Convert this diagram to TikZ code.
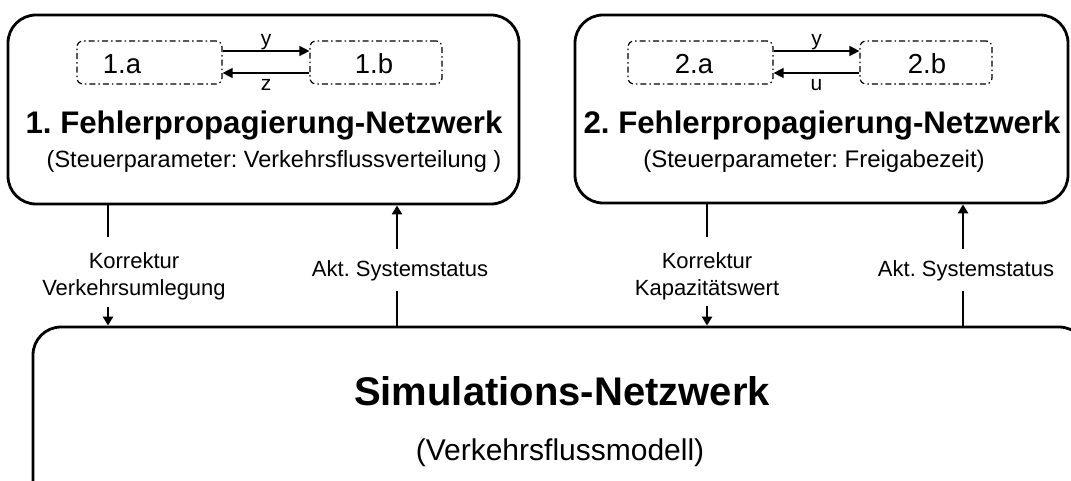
\documentclass[tikz,border=0pt]{standalone}
\usepackage{fontspec}
\setmainfont{Liberation Sans}
\usetikzlibrary{arrows.meta}
\frenchspacing
\tikzset{
  bigbox/.style={draw, line width=2.8pt, rounded corners=28pt, inner sep=0pt},
  subbox/.style={draw, line width=1.2pt, rounded corners=6pt, inner sep=0pt,
    dash pattern=on 6pt off 3pt on 1.5pt off 3pt},
  conn/.style={line width=2.8pt},
  carrow/.style={line width=2.8pt, -{Triangle[length=9pt,width=10pt]}},
  sarrow/.style={line width=1.4pt, -{Triangle[length=10pt,width=10pt]}},
  titlef/.style={font=\fontsize{31.2}{34}\selectfont\bfseries, inner sep=0pt, anchor=base},
  subf/.style={font=\fontsize{23.5}{26}\selectfont, inner sep=0pt, anchor=base},
  boxlab/.style={font=\fontsize{27.5}{29}\selectfont, inner sep=0pt},
  smalllab/.style={font=\fontsize{21}{22}\selectfont, inner sep=0pt},
  clab/.style={font=\fontsize{22}{27}\selectfont, inner sep=0pt, align=center},
}
\begin{document}
\begin{tikzpicture}[x=1pt,y=-1pt]
\useasboundingbox (0,0) rectangle (1071,481);
\clip (0,0) rectangle (1071,481);

% top boxes
\node[bigbox, minimum width=511pt, minimum height=189pt] (n1) at (263.5,109.5) {};
\node[bigbox, minimum width=493pt, minimum height=188pt] (n2) at (821.5,109) {};
% bottom box
\node[bigbox, minimum width=1054pt, minimum height=190pt] (sim) at (560,422) {};

% sub boxes
\node[subbox, minimum width=145pt, minimum height=43pt] (n1a) at (149.5,62.5) {};
\node[subbox, minimum width=132pt, minimum height=43pt] (n1b) at (376,62.5) {};
\node[subbox, minimum width=145pt, minimum height=43pt] (n2a) at (700.5,62.5) {};
\node[subbox, minimum width=132pt, minimum height=43pt] (n2b) at (926,62.5) {};
\node[boxlab] (l1a) at (122,64) {1.a};
\node[boxlab] (l1b) at (374,64) {1.b};
\node[boxlab] (l2a) at (694,64) {2.a};
\node[boxlab] (l2b) at (927,64) {2.b};

\draw[sarrow] ([yshift=11.5pt]n1a.east) -- ([yshift=11.5pt]n1b.west)
  node[smalllab, midway, anchor=south, yshift=0.5pt] (ly1) {y};
\draw[sarrow] ([yshift=-10.5pt]n1b.west) -- ([yshift=-10.5pt]n1a.east)
  node[smalllab, midway, anchor=north, yshift=-6pt] (lz1) {z};
\draw[sarrow] ([yshift=11.5pt]n2a.east) -- ([yshift=11.5pt]n2b.west)
  node[smalllab, midway, anchor=south, yshift=0.5pt] (ly2) {y};
\draw[sarrow] ([yshift=-10.5pt]n2b.west) -- ([yshift=-10.5pt]n2a.east)
  node[smalllab, midway, anchor=north, yshift=-6pt] (lu2) {u};

% titles
\node[titlef] (t1) at (264,134) {1. Fehlerpropagierung-Netzwerk};
\node[subf] (s1) at (274,168) {(Steuerparameter: Verkehrsflussverteilung )};
\node[titlef] (t2) at (822,134) {2. Fehlerpropagierung-Netzwerk};
\node[subf, font=\fontsize{24}{26}\selectfont] (s2) at (814,168) {(Steuerparameter: Freigabezeit)};
\node[font=\fontsize{40}{44}\selectfont\bfseries, inner sep=0pt, anchor=base] (st) at (562,405) {Simulations-Netzwerk};
\node[font=\fontsize{30}{32}\selectfont, inner sep=0pt, anchor=base] (ss) at (560,460) {(Verkehrsflussmodell)};

% connector labels
\node[clab] (k1) at (134,276) {Korrektur\\Verkehrsumlegung};
\node[clab] (k2) at (707,276) {Korrektur\\Kapazitätswert};
\node[clab] (s1l) at (400,271) {Akt. Systemstatus};
\node[clab] (s2l) at (966,271) {Akt. Systemstatus};

% connectors
\coordinate (a1) at (108,237);
\coordinate (a2) at (108,307);
\coordinate (b1) at (397,291);
\coordinate (b2) at (397,249);
\coordinate (c1) at (707,237);
\coordinate (c2) at (707,306);
\coordinate (d1) at (963,291);
\coordinate (d2) at (963,249);

\draw[conn] (n1.south -| a1) -- (a1);
\draw[carrow] (a2) -- (sim.north -| a2);
\draw[conn] (sim.north -| b1) -- (b1);
\draw[carrow] (b2) -- (n1.south -| b2);
\draw[conn] (n2.south -| c1) -- (c1);
\draw[carrow] (c2) -- (sim.north -| c2);
\draw[conn] (sim.north -| d1) -- (d1);
\draw[carrow] (d2) -- (n2.south -| d2);
\end{tikzpicture}
\end{document}
